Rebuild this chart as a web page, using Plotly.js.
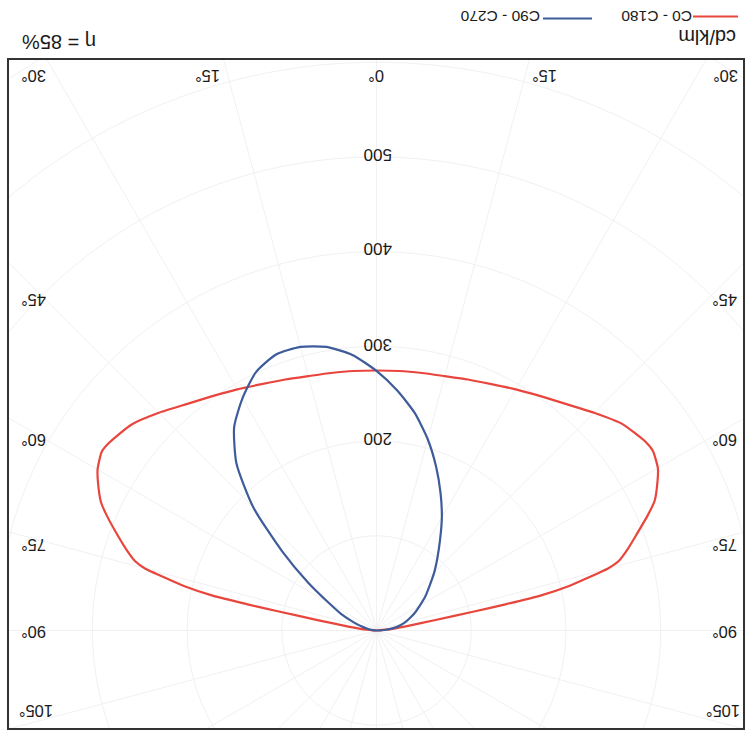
<!DOCTYPE html>
<html>
<head>
<meta charset="utf-8">
<script src="https://cdn.plot.ly/plotly-3.0.1.min.js"></script>
<style>
  html, body { margin:0; padding:0; background:#fff; overflow:hidden; }
  #wrap { position:absolute; left:0; top:0; width:746px; height:732px; overflow:hidden; background:#fff; }
  #clip { position:absolute; left:8px; top:59px; width:736px; height:670px; overflow:hidden; }
  #polar { position:absolute; left:-323px; top:-120.5px; width:1383px; height:1383px; }
  #over { position:absolute; left:0; top:0; width:746px; height:732px; }
</style>
</head>
<body>
<div id="wrap">
  <div id="clip"><div id="polar"></div></div>
  <div id="over"></div>
</div>
<script>
// ---- data (cd/klm) ----
const gammaRed = [0,5,10,15,20,25,30,35,40,45,50,55,57,60,62,65,67,70,72,74,75,76,77,78,78.5,79,80,82,85,90];
const c0   = [274.5,275,276,278,282,287,294,302,312,325,338,345,346,340,333,321,309,290,278,265,253,230,208,176,140,105,62,30,10,0];
const c180 = [274.5,275,276,278,282,287,294,302,312,325,339,347,348,343,336,324,311,291,279,266,253,230,208,176,140,105,62,30,10,0];

const gammaBlue = [0,5,10,15,20,25,30,35,40,45,50,55,60,65,70,75,80,85,90];
const c90  = [274,292,304,310,310,301,283,262,230,184,130,88,58,41,26,16,9,4,0];
const c270 = [274,254,233,209,184,160,138,117,100,86,73,63,53,45,37,30,22,12,0];

const seriesNames = ['C0 - C180', 'C90 - C270'];
const angleLabels = [0,15,30,45,60,75,90,105];
const radialTicks = [200,300,400,500];
const unitLabel = 'cd/klm';
const effLabel = 'η = 85%';

// ---- build curves ----
function half(g, v, sign){ return {t: g.map(x => sign*x), r: v.slice()}; }
function join(gamma, left, right){
  const L = half(gamma, left, -1), R = half(gamma, right, 1);
  return {
    theta: L.t.slice().reverse().concat(R.t.slice(1)),
    r: L.r.slice().reverse().concat(R.r.slice(1))
  };
}
const red = join(gammaRed, c0, c180);
const blue = join(gammaBlue, c90, c270);

const RED = '#e8463d', BLUE = '#3e5c9a', GRID = '#f1f1f1';
const RMAX = 730;

Plotly.newPlot('polar', [
  {type:'scatterpolar', mode:'lines', theta: red.theta, r: red.r, name: seriesNames[0],
   line:{color:RED, width:2.2, shape:'spline', smoothing:0.5}, hoverinfo:'skip'},
  {type:'scatterpolar', mode:'lines', theta: blue.theta, r: blue.r, name: seriesNames[1],
   line:{color:BLUE, width:2.2, shape:'spline', smoothing:0.6}, hoverinfo:'skip'}
], {
  width:1383, height:1383, margin:{l:0,r:0,t:0,b:0,pad:0},
  paper_bgcolor:'rgba(0,0,0,0)', showlegend:false,
  polar:{
    domain:{x:[0,1], y:[0,1]}, bgcolor:'rgba(0,0,0,0)',
    angularaxis:{rotation:90, direction:'clockwise', thetaunit:'degrees',
      tickmode:'linear', tick0:0, dtick:15, showticklabels:false, ticks:'',
      showline:false, showgrid:true, gridcolor:GRID, gridwidth:1},
    radialaxis:{range:[0,RMAX], tickmode:'linear', tick0:0, dtick:100,
      showticklabels:false, ticks:'', showline:false, showgrid:true, gridcolor:GRID, gridwidth:1}
  }
}, {staticPlot:true});

// ---- overlay: frame, labels, legend (text drawn upside down as in reference) ----
const CX = 376.5, CY = 630, K = 1383/2/RMAX;
const FONT = 'Liberation Sans, Arial, sans-serif';
const TXT = '#1a1a1a';
const ann = [];
function lab(text, x, y, size, xanchor){
  ann.push({xref:'x', yref:'y', x:x, y:y, text:text, showarrow:false, textangle:180,
    xanchor:xanchor||'center', yanchor:'middle', font:{family:FONT, size:size, color:TXT}});
}
const topPos = {0:[376], 15:[208,545], 30:[34,726]};
const sidePos = {45:[34,725,300], 60:[34,725,440], 75:[34,725,545], 90:[34,725,632], 105:[36,723,711]};
const TOPY = 76;
angleLabels.forEach(a => {
  const t = a + '°';
  if (topPos[a]) topPos[a].forEach(x => lab(t, x, TOPY, 16.5));
  if (sidePos[a]) { lab(t, sidePos[a][0], sidePos[a][2], 16.5); lab(t, sidePos[a][1], sidePos[a][2], 16.5); }
});
radialTicks.forEach(v => lab(String(v), 378, CY - v*K - 2, 17));
lab(unitLabel, 707.5, 37, 20);
lab(effLabel, 59, 42, 20);
lab(seriesNames[0], 656.5, 17, 15.5);
lab(seriesNames[1], 500, 17, 15.5);

const shapes = [
  {type:'rect', xref:'x', yref:'y', x0:8, x1:744, y0:59, y1:729, line:{color:'#333', width:2}},
  {type:'line', xref:'x', yref:'y', x0:693, x1:738, y0:16.5, y1:16.5, line:{color:RED, width:2.2}},
  {type:'line', xref:'x', yref:'y', x0:543, x1:592, y0:18.5, y1:18.5, line:{color:BLUE, width:2.2}}
];

Plotly.newPlot('over', [], {
  width:746, height:732, margin:{l:0,r:0,t:0,b:0,pad:0},
  paper_bgcolor:'rgba(0,0,0,0)', plot_bgcolor:'rgba(0,0,0,0)', showlegend:false,
  xaxis:{range:[0,746], visible:false, fixedrange:true},
  yaxis:{range:[732,0], visible:false, fixedrange:true},
  annotations: ann, shapes: shapes
}, {staticPlot:true});
</script>
</body>
</html>
